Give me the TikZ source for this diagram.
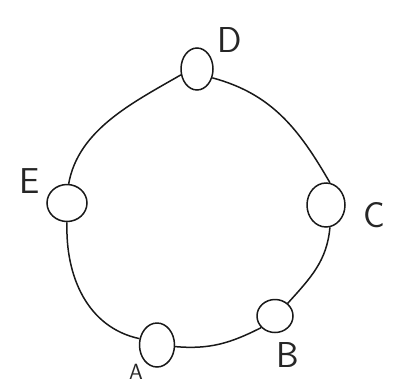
\documentclass[tikz,border=0pt]{standalone}
\usetikzlibrary{shapes.geometric}
\begin{document}
\begin{tikzpicture}[x=1pt,y=1pt,
  host/.style={draw=black!90, line width=1.5pt, ellipse, inner sep=0pt},
  link/.style={draw=black!90, line width=1.5pt},
  lbl/.style={font=\sffamily\fontsize{36}{38}\selectfont, inner sep=0pt, text=black!85}]
\useasboundingbox (0,0) rectangle (398,-383);
\node[host, minimum width=32, minimum height=42] (D) at (197,-69) {};
\node[host, minimum width=40, minimum height=37] (E) at (67,-203) {};
\node[host, minimum width=38, minimum height=44] (C) at (326,-205) {};
\node[host, minimum width=36, minimum height=33] (B) at (275,-316) {};
\node[host, minimum width=35, minimum height=44] (A) at (157,-345) {};
\node[lbl] (lD) at (230,-40) {D};
\node[lbl] (lE) at (30,-181) {E};
\node[lbl] (lC) at (374,-215) {C};
\node[lbl] (lB) at (288,-355) {B};
\node[lbl, font=\sffamily\fontsize{22}{24}\selectfont] (lA) at (136,-372) {A};
\draw[link] (D.-30) to[out=-15, in=120] (C.80);
\draw[link] (D.200) to[out=210, in=80, looseness=0.9] (E.85);
\draw[link] (E.-90) to[out=-92, in=168] (A.160);
\draw[link] (A.-5) to[out=-5, in=207] (B.220);
\draw[link] (B.45) to[out=48, in=-95] (C.-80);
\end{tikzpicture}
\end{document}
